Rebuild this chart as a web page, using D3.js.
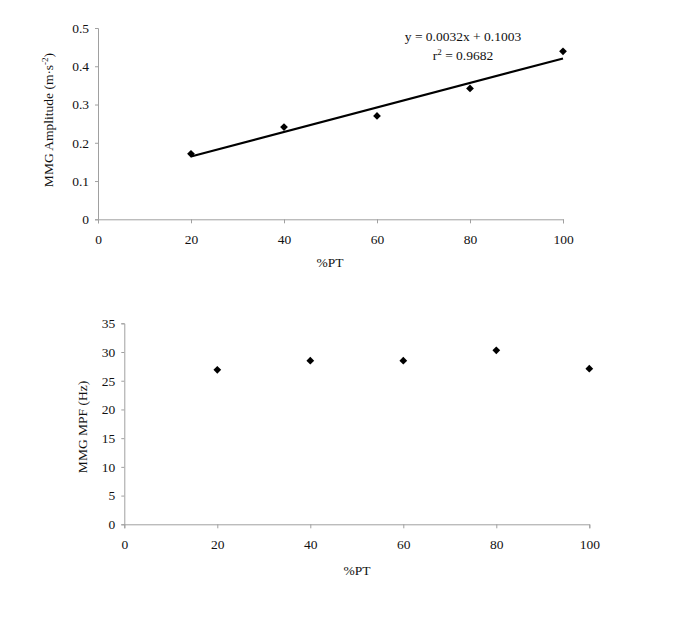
<!DOCTYPE html>
<html><head><meta charset="utf-8">
<script src="https://cdn.jsdelivr.net/npm/d3@7"></script>
<style>body{margin:0;background:#fff}svg{display:block}text{font-family:"Liberation Serif","Times New Roman",serif;fill:#111}</style>
</head><body>
<svg id="c" width="685" height="632"></svg>
<script>
const xPct = [20, 40, 60, 80, 100];
const amplitude = [0.171, 0.241, 0.270, 0.342, 0.439];
const mpf = [26.9, 28.5, 28.5, 30.3, 27.1];
const xTicks = [0, 20, 40, 60, 80, 100];
const ampTicks = [0, 0.1, 0.2, 0.3, 0.4, 0.5];
const mpfTicks = [0, 5, 10, 15, 20, 25, 30, 35];
const slope = 0.0032, intercept = 0.1003;
const eqText = "y = 0.0032x + 0.1003";
const r2Value = "0.9682";

const svg = d3.select("#c");
const axisColor = "#a0a0a0";

function panel(cfg) {
  const g = svg.append("g");
  const x = d3.scaleLinear().domain([0, 100]).range([cfg.x0, cfg.x1]);
  const y = d3.scaleLinear().domain(cfg.yDomain).range([cfg.y0, cfg.y1]);
  const xa = g.append("g").attr("transform", `translate(0,${cfg.y0})`)
    .call(d3.axisBottom(x).tickValues(xTicks).tickSize(4).tickPadding(11).tickFormat(d3.format("d")));
  const ya = g.append("g").attr("transform", `translate(${cfg.x0},0)`)
    .call(d3.axisLeft(y).tickValues(cfg.yTicks).tickSize(3).tickPadding(6).tickFormat(cfg.fmt));
  [xa, ya].forEach(a => {
    a.select(".domain").attr("stroke", axisColor);
    a.selectAll(".tick line").attr("stroke", axisColor);
    a.selectAll(".tick text").attr("font-size", 13.5).attr("font-family", "Liberation Serif").attr("fill", "#222");
  });
  g.append("text").attr("x", cfg.xlab[0]).attr("y", cfg.xlab[1]).attr("text-anchor", "middle")
    .attr("font-size", 13.5).text("%PT");
  const yl = g.append("text").attr("transform", `translate(${cfg.ylab[0]},${cfg.ylab[1]}) rotate(-90)`)
    .attr("text-anchor", "middle").attr("font-size", 13.5);
  cfg.ylabFn(yl);
  return {g, x, y};
}

// Top panel
const p1 = panel({x0: 98, x1: 563, y0: 219.3, y1: 28, yDomain: [0, 0.5], yTicks: ampTicks,
  fmt: d => d === 0 ? "0" : d3.format(".1f")(d), xlab: [330, 267], ylab: [53, 120],
  ylabFn: t => { t.append("tspan").text("MMG Amplitude (m·s");
    t.append("tspan").attr("dy", -5).attr("font-size", 9).text("-2");
    t.append("tspan").attr("dy", 5).text(")"); }});
p1.g.append("line")
  .attr("x1", p1.x(xPct[0])).attr("y1", p1.y(slope * xPct[0] + intercept))
  .attr("x2", p1.x(xPct[4])).attr("y2", p1.y(slope * xPct[4] + intercept))
  .attr("stroke", "#000").attr("stroke-width", 2.2);
p1.g.selectAll("path.pt").data(xPct).join("path").attr("class", "pt")
  .attr("d", d3.symbol(d3.symbolSquare, 30)())
  .attr("transform", (d, i) => `translate(${p1.x(d)},${p1.y(amplitude[i])}) rotate(45)`)
  .attr("fill", "#000");
p1.g.append("text").attr("x", 463).attr("y", 41).attr("text-anchor", "middle").attr("font-size", 13.5).text(eqText);
const r2 = p1.g.append("text").attr("x", 463).attr("y", 60).attr("text-anchor", "middle").attr("font-size", 13.5);
r2.append("tspan").text("r");
r2.append("tspan").attr("dy", -5).attr("font-size", 9).text("2");
r2.append("tspan").attr("dy", 5).text(" = " + r2Value);

// Bottom panel
const p2 = panel({x0: 124.3, x1: 589.3, y0: 524.3, y1: 323.3, yDomain: [0, 35], yTicks: mpfTicks,
  fmt: d3.format("d"), xlab: [357, 575], ylab: [87, 427],
  ylabFn: t => t.text("MMG MPF (Hz)")});
p2.g.selectAll("path.pt").data(xPct).join("path").attr("class", "pt")
  .attr("d", d3.symbol(d3.symbolSquare, 30)())
  .attr("transform", (d, i) => `translate(${p2.x(d)},${p2.y(mpf[i])}) rotate(45)`)
  .attr("fill", "#000");
</script>
</body></html>
